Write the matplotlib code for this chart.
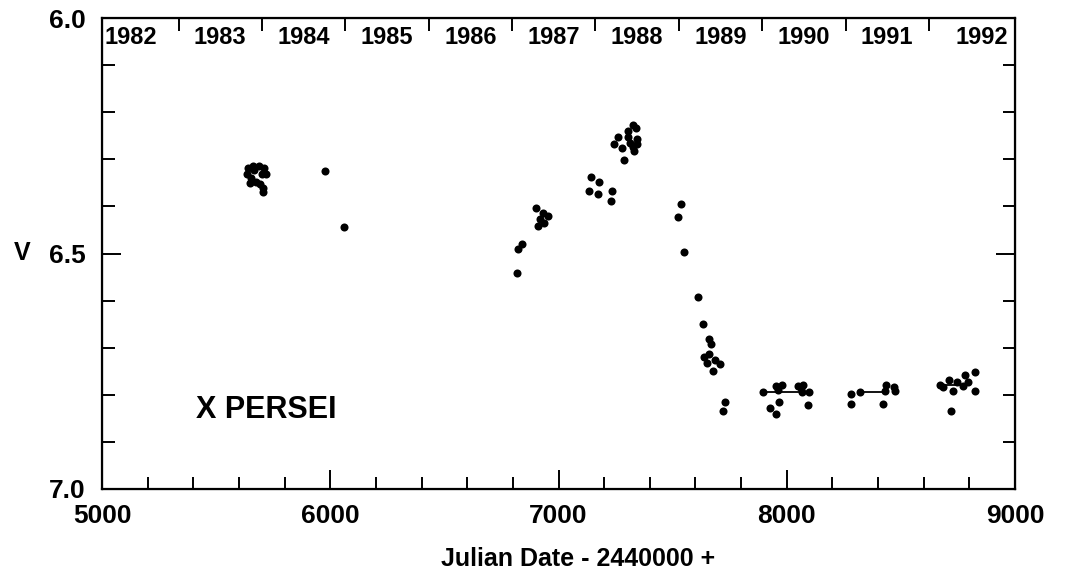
import matplotlib
matplotlib.use("Agg")
import matplotlib.pyplot as plt
import numpy as np

# X Persei V light curve
jd = [5640, 5662, 5688, 5710, 5635, 5653, 5701, 5719, 5675, 5692, 5705, 5707, 5666, 5648,
      5977, 6060,
      6820, 6824, 6839, 6901, 6912, 6919, 6933, 6938, 6955,
      7134, 7141, 7173, 7177, 7230, 7234,
      7328, 7340, 7306, 7306, 7262, 7342, 7313, 7244, 7277, 7328, 7345, 7331, 7287,
      7522, 7535, 7551, 7611, 7633, 7658, 7668, 7637, 7661, 7649, 7686, 7707, 7675, 7731, 7722,
      7894, 7953, 7978, 7963, 7967, 7927, 7953, 8051, 8072, 8065, 8099, 8092, 8062,
      8280, 8280, 8321, 8433, 8430, 8472, 8476, 8423,
      8671, 8686, 8712, 8727, 8747, 8773, 8781, 8795, 8826, 8823, 8718]
vmag = [6.318, 6.314, 6.314, 6.318, 6.331, 6.340, 6.331, 6.331, 6.348, 6.352, 6.361, 6.369, 6.323, 6.350,
        6.324, 6.444,
        6.541, 6.490, 6.480, 6.404, 6.441, 6.427, 6.413, 6.435, 6.420,
        6.367, 6.337, 6.373, 6.348, 6.389, 6.367,
        6.227, 6.234, 6.239, 6.252, 6.253, 6.256, 6.266, 6.268, 6.275, 6.273, 6.268, 6.282, 6.301,
        6.423, 6.395, 6.496, 6.592, 6.650, 6.681, 6.692, 6.720, 6.713, 6.732, 6.726, 6.735, 6.749, 6.815, 6.834,
        6.795, 6.781, 6.779, 6.790, 6.815, 6.829, 6.841, 6.781, 6.779, 6.793, 6.793, 6.822, 6.785,
        6.798, 6.820, 6.793, 6.779, 6.791, 6.783, 6.791, 6.820,
        6.779, 6.784, 6.769, 6.791, 6.773, 6.781, 6.758, 6.773, 6.752, 6.791, 6.834]

# horizontal mean bars in the last three seasons
bar_start = [7894, 8321, 8671]
bar_end = [8109, 8438, 8772]
bar_level = [6.795, 6.793, 6.779]

years = [1982, 1983, 1984, 1985, 1986, 1987, 1988, 1989, 1990, 1991, 1992]
year_start = [5335.5, 5700.5, 6066.5, 6431.5, 6796.5, 7161.5, 7527.5, 7892.5, 8257.5, 8622.5]
year_label_x = [5125, 5518, 5883, 6249, 6614, 6979, 7344, 7710, 8075, 8440, 8855]

font = ['Liberation Sans', 'DejaVu Sans']
plt.rcParams['font.family'] = font
plt.rcParams['font.weight'] = 'bold'

fig = plt.figure(figsize=(10.77, 5.71), dpi=100)
ax = fig.add_axes([102/1077, 1 - 489/571, 913/1077, 471/571])

ax.plot(jd, vmag, 'o', color='black', markersize=5.8, markeredgewidth=0)
for x0, x1, y in zip(bar_start, bar_end, bar_level):
    ax.plot([x0, x1], [y, y], color='black', lw=1.3)

ax.set_xlim(5000, 9000)
ax.set_ylim(7.0, 6.0)

ax.set_xticks(np.arange(5000, 9001, 1000))
ax.set_xticks(np.arange(5000, 9001, 200), minor=True)
ax.set_yticks([6.0, 6.5, 7.0])
ax.set_yticklabels(['6.0', '6.5', '7.0'])
ax.set_yticks(np.arange(6.0, 7.01, 0.1), minor=True)
ax.tick_params(which='major', direction='in', length=14, width=1.4, labelsize=19, top=False, right=True)
ax.tick_params(which='minor', direction='in', length=9, width=1.4, top=False, right=True)
ax.tick_params(axis='x', which='major', pad=11)
ax.tick_params(axis='y', which='major', pad=12)
for lab in ax.get_xticklabels() + ax.get_yticklabels():
    lab.set_fontweight('bold')
for s in ax.spines.values():
    s.set_linewidth(1.6)

# year scale along the top
top = ax.twiny()
top.set_xlim(5000, 9000)
top.set_xticks(year_start)
top.set_xticklabels([])
top.tick_params(direction='in', length=9, width=1.4)
for yr, xm in zip(years, year_label_x):
    ax.text(xm, 6.016, str(yr), ha='center', va='top', fontsize=17, fontweight='bold')

ax.set_xlabel('Julian Date - 2440000 +', fontsize=18, fontweight='bold')
ax.xaxis.set_label_coords(0.521, -0.123)
ax.text(-0.087, 0.5, 'V', transform=ax.transAxes, ha='center', va='center', fontsize=18, fontweight='bold')
ax.text(5412, 6.832, 'X PERSEI', ha='left', va='center', fontsize=22, fontweight='bold')

fig.savefig('out.png', dpi=100)
